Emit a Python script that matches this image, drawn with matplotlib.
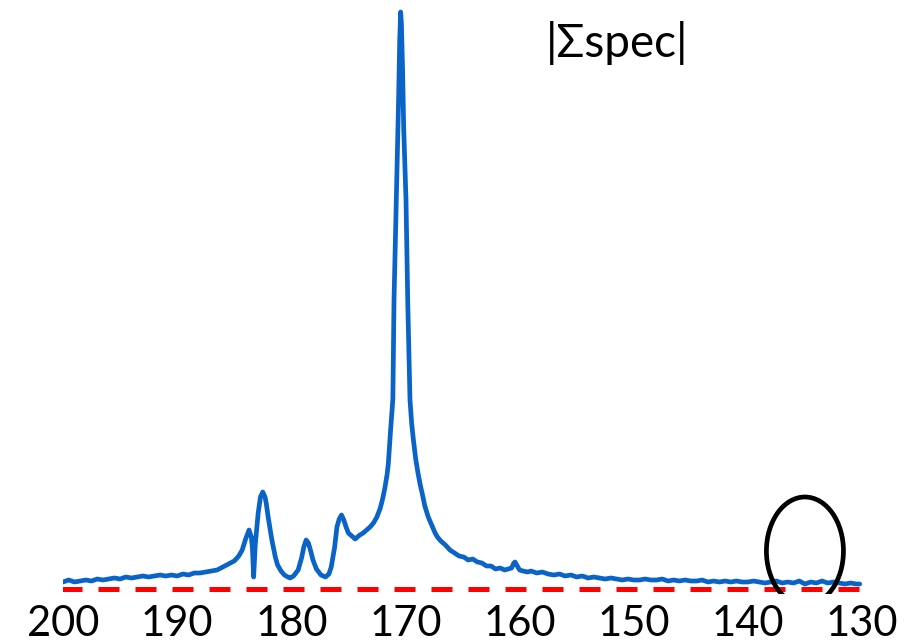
import matplotlib
matplotlib.use("Agg")
import matplotlib.pyplot as plt
from matplotlib.patches import Ellipse

# chemical shift (ppm) and intensity (a.u.)
ppm = [200.0, 199.5, 199.0, 198.5, 198.0, 197.5, 197.0, 196.5, 196.0, 195.5,
       195.0, 194.5, 194.0, 193.5, 193.0, 192.5, 192.0, 191.5, 191.0, 190.5,
       190.0, 189.5, 189.0, 188.5, 188.0, 187.5, 187.0, 186.5, 186.0, 185.5,
       185.0, 184.6, 184.3, 184.0, 183.7, 183.5, 183.4, 183.3, 183.15, 182.9,
       182.7, 182.5, 182.3, 182.2, 182.0, 181.7, 181.4, 181.2, 180.9, 180.6,
       180.3, 180.1, 179.8, 179.4, 179.1, 178.9, 178.7, 178.5, 178.3, 178.1,
       177.8, 177.4, 177.0, 176.7, 176.5, 176.2, 176.0, 175.8, 175.6, 175.4,
       175.2, 175.0, 174.8, 174.6, 174.4, 174.2, 174.0, 173.7, 173.4, 173.1,
       172.8, 172.5, 172.2, 172.0, 171.8, 171.6, 171.5, 171.3, 171.1, 171.0,
       170.8, 170.6, 170.5, 170.42, 170.35, 170.25, 170.15, 169.95, 169.8, 169.6,
       169.45, 169.3, 169.1, 168.9, 168.7, 168.5, 168.3, 168.0, 167.7, 167.4,
       167.2, 166.9, 166.5, 166.1, 165.7, 165.3, 164.9, 164.5, 164.1, 163.7,
       163.3, 162.9, 162.5, 162.1, 161.7, 161.3, 161.0, 160.7, 160.5, 160.4,
       160.2, 160.0, 159.7, 159.3, 159.0, 158.5, 158.0, 157.5, 157.0, 156.5,
       156.0, 155.5, 155.0, 154.5, 154.0, 153.5, 153.0, 152.5, 152.0, 151.5,
       151.0, 150.5, 150.0, 149.5, 149.0, 148.5, 148.0, 147.5, 147.0, 146.5,
       146.0, 145.5, 145.0, 144.5, 144.0, 143.5, 143.0, 142.5, 142.0, 141.5,
       141.0, 140.5, 140.0, 139.5, 139.0, 138.5, 138.0, 137.5, 137.0, 136.5,
       136.0, 135.5, 135.0, 134.5, 134.0, 133.5, 133.0, 132.5, 132.0, 131.5,
       131.0, 130.5, 130.2]
intensity = [7, 9, 7, 8, 9, 8, 10, 9, 10, 11,
             10, 12, 11, 12, 13, 12, 13, 14, 13, 14,
             13, 15, 14, 16, 16, 17, 18, 19, 22, 25,
             28, 33, 39, 50, 59, 52, 40, 12, 45, 76,
             92, 97, 92, 86, 70, 49, 32, 24, 18, 14,
             12, 11, 13, 19, 31, 42, 49, 46, 38, 29,
             20, 14, 12, 15, 22, 42, 62, 70, 74, 69,
             62, 56, 54, 52, 50, 52, 54, 56, 59, 62,
             66, 72, 81, 90, 101, 115, 125, 159, 190, 289,
             389, 489, 549, 577, 565, 520, 460, 389, 289, 189,
             165, 149, 130, 116, 104, 94, 83, 72, 64, 56,
             52, 48, 44, 39, 36, 33, 32, 29, 30, 27,
             26, 23, 23, 20, 21, 19, 20, 21, 26, 27,
             23, 19, 18, 17, 18, 16, 17, 15, 14, 15,
             13, 14, 12, 13, 11, 12, 11, 10, 11, 10,
             9, 10, 9, 9, 10, 9, 9, 10, 8, 9,
             8, 9, 8, 8, 9, 7, 8, 7, 8, 7,
             8, 7, 7, 8, 7, 6, 7, 8, 6, 7,
             6, 8, 5, 7, 6, 8, 6, 7, 6, 5,
             6, 5, 5]

tick_values = [200, 190, 180, 170, 160, 150, 140, 130]
tick_labels = ["200", "190", "180", "170", "160", "150", "140", "130"]
label_text = "|Σspec|"
baseline_range = [200.15, 129.85]
circle_center = (135.0, 38)

W, H = 917, 643
fig = plt.figure(figsize=(W / 100, H / 100), dpi=100)
ax = fig.add_axes([63 / W, 49 / H, 799 / W, 589 / H])

ax.plot(ppm, intensity, color="#0A64C8", lw=3.4, solid_joinstyle="round",
        solid_capstyle="round", zorder=3)
ax.plot(baseline_range, [0, 0], color="#FF0000", lw=3.6, dashes=(4.2, 3.2), zorder=2)
ax.add_patch(Ellipse(circle_center, width=6.75, height=108, fill=False,
                     edgecolor="black", lw=3.4, zorder=4))

ax.set_xlim(200, 130)
ax.set_ylim(-5, 584)
ax.set_xticks(tick_values)
ax.set_xticklabels(tick_labels, fontfamily="Lato", fontsize=30)
ax.tick_params(axis="x", length=0, pad=8)
ax.set_yticks([])
for s in ax.spines.values():
    s.set_visible(False)

fig.text(617 / W, 1 - 57 / H, label_text, fontfamily="Lato", fontsize=33,
         ha="center", va="baseline")

fig.savefig("out.png", dpi=100)
